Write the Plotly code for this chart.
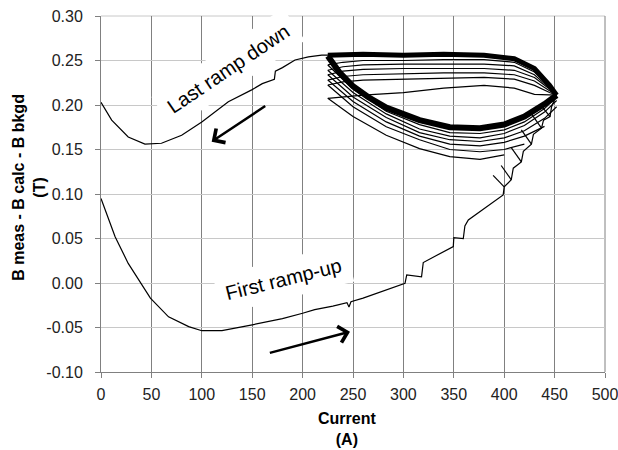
import plotly.graph_objects as go

# ---- tick labels ----
x_ticks = [0, 50, 100, 150, 200, 250, 300, 350, 400, 450, 500]
y_ticks = [-0.10, -0.05, 0.00, 0.05, 0.10, 0.15, 0.20, 0.25, 0.30]
y_ticktext = ["-0.10", "-0.05", "0.00", "0.05", "0.10", "0.15", "0.20", "0.25", "0.30"]

# ---- first ramp-up (incl. staircase near 400-450 A) ----
ramp_up_x = [0, 14, 27, 49, 67, 87, 100, 120, 150, 180, 200, 212, 230, 244, 246, 248, 260,
             287, 301.6, 303.3, 318, 319.7, 349.5, 350, 359.4, 361, 364.4, 399, 400,
             407, 409, 417, 419, 427, 429, 437, 439, 445.5, 447, 450.4]
ramp_up_y = [0.095, 0.052, 0.022, -0.017, -0.038, -0.049, -0.0536, -0.0536, -0.047, -0.040,
             -0.034, -0.030, -0.026, -0.022, -0.027, -0.021, -0.017,
             -0.006, -0.0003, 0.009, 0.007, 0.023, 0.041, 0.051, 0.050, 0.064, 0.0708, 0.099, 0.108,
             0.116, 0.129, 0.136, 0.148, 0.156, 0.167, 0.174, 0.183, 0.187, 0.198, 0.2075]

# ---- short ramp-down spurs at the staircase ----
spur_x = [[389, 400], [397, 407], [407, 417], [417, 427], [427, 437], [436, 445.5]]
spur_y = [[0.121, 0.108], [0.132, 0.116], [0.152, 0.136], [0.172, 0.156], [0.190, 0.174], [0.200, 0.187]]

# ---- lower (bowl) branches of the cycles ----
bowl_x = [225, 250, 283, 316, 346, 376, 400, 420, 440, 452]
bowl_1 = [0.2075, 0.187, 0.166, 0.151, 0.142, 0.139, 0.144]
bowl_2 = [0.2225, 0.198, 0.1756, 0.161, 0.150, 0.1475, 0.150, 0.156]
bowl_3 = [0.228, 0.204, 0.181, 0.165, 0.156, 0.154, 0.158, 0.165, 0.176]
bowl_4 = [0.234, 0.209, 0.186, 0.169, 0.161, 0.159, 0.163, 0.171, 0.185, 0.198]
bowl_5 = [0.239, 0.214, 0.190, 0.173, 0.165, 0.163, 0.168, 0.177, 0.192, 0.205]
bowl_6 = [0.245, 0.218, 0.193, 0.178, 0.169, 0.168, 0.172, 0.181, 0.196, 0.209]

dense_bowl_x = [225, 237, 250, 265, 283, 300, 316, 346, 376, 400, 420, 440, 452]
dense_bowl_y = [0.255, 0.236, 0.221, 0.209, 0.197, 0.189, 0.183, 0.175, 0.174, 0.178, 0.187, 0.201, 0.211]

# ---- upper (flat) branches of the cycles ----
flat_x = [225, 240, 260, 300, 340, 380, 410, 430, 445, 452]
flat_1 = [0.2075, 0.209, 0.211, 0.214, 0.219, 0.222, 0.219, 0.212, 0.211, 0.211]
flat_2 = [0.2225, 0.226, 0.228, 0.229, 0.230, 0.231, 0.229, 0.222, 0.214, 0.211]
flat_3 = [0.228, 0.232, 0.234, 0.235, 0.236, 0.236, 0.234, 0.227, 0.216, 0.211]
flat_4 = [0.234, 0.238, 0.240, 0.241, 0.241, 0.241, 0.239, 0.231, 0.218, 0.211]
flat_5 = [0.239, 0.243, 0.245, 0.246, 0.246, 0.246, 0.244, 0.234, 0.219, 0.211]
flat_6 = [0.245, 0.248, 0.250, 0.250, 0.251, 0.251, 0.248, 0.237, 0.220, 0.211]
flat_top = [0.256, 0.257, 0.257, 0.256, 0.257, 0.256, 0.252, 0.241, 0.222, 0.211]

# ---- last ramp down ----
down_x = [232, 219, 205.7, 192.5, 180, 173, 172, 160, 149.5, 126.3, 100, 80, 60, 43.6, 27, 10.6, 0]
down_y = [0.256, 0.256, 0.254, 0.2506, 0.242, 0.238, 0.229, 0.224, 0.217, 0.2037, 0.181,
          0.166, 0.157, 0.156, 0.164, 0.183, 0.203]

fig = go.Figure()

def add_line(x, y, w=1.0):
    fig.add_trace(go.Scatter(x=x, y=y, mode="lines", line=dict(color="black", width=w),
                             showlegend=False, hoverinfo="skip"))

for by in [bowl_1, bowl_2, bowl_3, bowl_4, bowl_5, bowl_6]:
    add_line(bowl_x[:len(by)], by, 1.2)
for fy in [flat_1, flat_2, flat_3, flat_4, flat_5, flat_6]:
    add_line(flat_x, fy, 1.2)
add_line(dense_bowl_x, dense_bowl_y, 6)
add_line(flat_x, flat_top, 5)
for sx, sy in zip(spur_x, spur_y):
    add_line(sx, sy, 1.2)
add_line(ramp_up_x, ramp_up_y, 1.2)
add_line(down_x, down_y, 1.2)

font_main = "Liberation Sans, Arial, sans-serif"

fig.add_annotation(x=125.7, y=0.241, xref="x", yref="y", text="Last ramp down",
                   textangle=-34, showarrow=False, font=dict(family=font_main, size=20, color="black"),
                   bgcolor="white", borderpad=8, xanchor="center", yanchor="middle")
fig.add_annotation(x=181.5, y=0.0047, xref="x", yref="y", text="First ramp-up",
                   textangle=-14, showarrow=False, font=dict(family=font_main, size=20, color="black"),
                   bgcolor="white", borderpad=8, xanchor="center", yanchor="middle")
# arrows
fig.add_annotation(x=109.8, y=0.1588, ax=164.4, ay=0.200, xref="x", yref="y", axref="x", ayref="y",
                   text="", showarrow=True, arrowhead=4, arrowsize=1.3, arrowwidth=2.5, arrowcolor="black")
fig.add_annotation(x=247, y=-0.0547, ax=166, ay=-0.079, xref="x", yref="y", axref="x", ayref="y",
                   text="", showarrow=True, arrowhead=4, arrowsize=1.3, arrowwidth=2.5, arrowcolor="black")

# axis titles
fig.add_annotation(x=-0.143, y=0.52, xref="paper", yref="paper", text="<b>B meas - B calc - B bkgd<br>(T)</b>",
                   textangle=-90, showarrow=False, xanchor="center", yanchor="middle",
                   font=dict(family=font_main, size=16, color="black"))
fig.add_annotation(x=0.488, y=-0.159, xref="paper", yref="paper", text="<b>Current<br>(A)</b>",
                   showarrow=False, xanchor="center", yanchor="middle",
                   font=dict(family=font_main, size=16, color="black"))

# edge grid lines (plotly drops grid lines lying on the plot-area edges)
fig.add_shape(type="line", xref="paper", yref="paper", x0=0, x1=1, y0=1, y1=1,
              line=dict(color="#c8c8c8", width=1), layer="below")
fig.add_shape(type="line", xref="paper", yref="paper", x0=1, x1=1, y0=0, y1=1,
              line=dict(color="#808080", width=1), layer="below")

fig.update_layout(
    width=618, height=450,
    margin=dict(l=101, r=13, t=16, b=78, autoexpand=False),
    plot_bgcolor="white", paper_bgcolor="white",
    font=dict(family=font_main, size=16, color="black"),
    xaxis=dict(range=[0, 500], tickvals=x_ticks, ticktext=[str(v) for v in x_ticks],
               automargin=False, ticklabeloverflow="allow",
               showgrid=True, gridcolor="#808080", gridwidth=1, zeroline=False,
               showline=True, linecolor="#808080", ticks="outside", ticklen=5, tickcolor="#808080",
               ticklabelstandoff=3, tickfont=dict(size=16, color="#222")),
    yaxis=dict(range=[-0.10, 0.30], tickvals=y_ticks, ticktext=y_ticktext,
               automargin=False, ticklabeloverflow="allow",
               showgrid=True, gridcolor="#c8c8c8", gridwidth=1, zeroline=False,
               showline=True, linecolor="#808080", ticks="outside", ticklen=5, tickcolor="#808080",
               ticklabelstandoff=9, tickfont=dict(size=16, color="#222")),
)

# remove the browser's default 8px body margin so the 618x450 figure fills the window exactly
fig.write_html("out.html", config={"displayModeBar": False},
               post_script="document.body.style.margin='0px';document.body.style.overflow='hidden';")
